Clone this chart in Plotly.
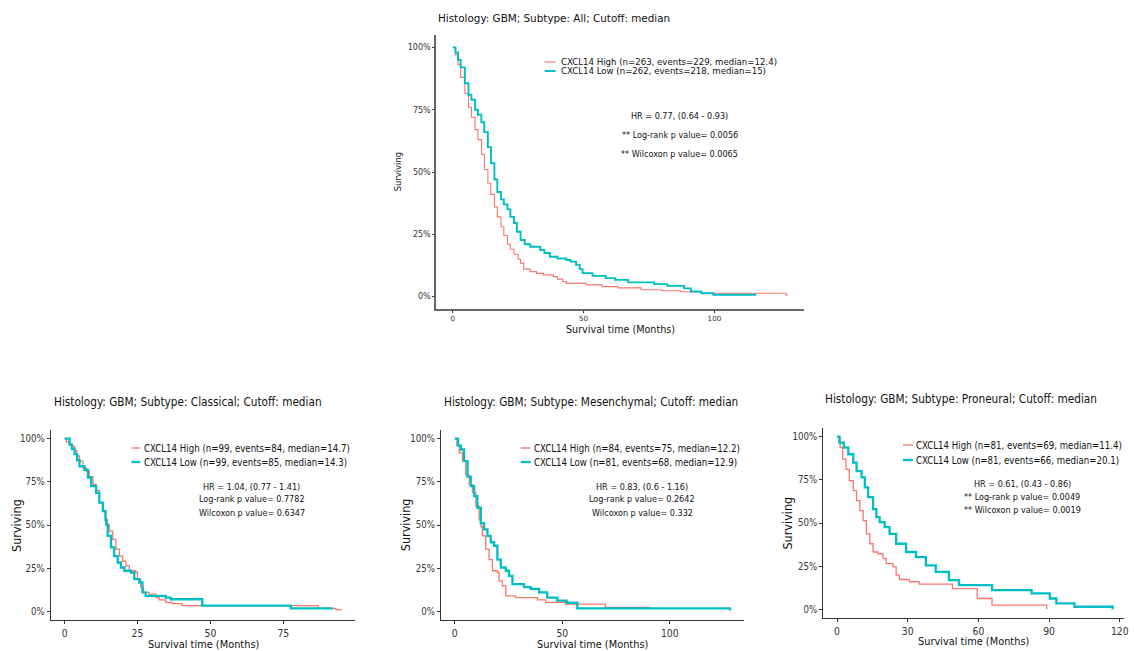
import plotly.graph_objects as go

W, H = 1134, 651
RED = "#F8766D"
TEAL = "#00BFC4"

# ---------------- data ----------------
all_high_t = [0, 1, 2, 3, 4.6, 6, 7.1, 8.5, 9.6, 11, 12.1, 13.4, 14.5, 15.9, 17, 18.4, 19.5, 20.9, 22, 23.4, 25,
              25.9, 27.1, 29.6, 32, 34.6, 38.4, 40, 42, 43.4, 51, 57, 63, 72, 80, 87, 95, 127.4, 128]
all_high_s = [1.0, 0.97, 0.93, 0.88, 0.815, 0.76, 0.72, 0.67, 0.63, 0.57, 0.51, 0.455, 0.41, 0.36, 0.32, 0.28, 0.245,
              0.21, 0.19, 0.17, 0.15, 0.134, 0.11, 0.10, 0.093, 0.087, 0.08, 0.07, 0.06, 0.053, 0.047, 0.04, 0.035,
              0.027, 0.023, 0.019, 0.013, 0.005, 0.005]
all_low_t = [0, 1, 2, 3, 4.6, 6, 7.1, 8.5, 9.6, 10.9, 12, 13.4, 14.6, 15.9, 17, 18.4, 19.5, 20.9, 22, 23.4, 24.5,
             25.9, 27.5, 29.6, 33.4, 35, 37.1, 40, 43.4, 45, 47.1, 48.5, 49.6, 53.4, 58.4, 62, 67, 77, 82, 88.4, 91,
             95, 99.6, 116]
all_low_s = [1.0, 0.98, 0.95, 0.92, 0.856, 0.81, 0.79, 0.75, 0.73, 0.70, 0.66, 0.60, 0.535, 0.47, 0.42, 0.39, 0.37,
             0.35, 0.32, 0.295, 0.26, 0.227, 0.21, 0.20, 0.187, 0.175, 0.16, 0.153, 0.147, 0.14, 0.127, 0.11, 0.094,
             0.083, 0.074, 0.067, 0.057, 0.05, 0.043, 0.033, 0.02, 0.013, 0.007, 0.007]

cla_high_t = [0, 0.6, 1.5, 2.3, 3.4, 4.2, 5.1, 6.3, 7.4, 8.5, 9.7, 10.8, 11.9, 13.1, 14.2, 14.7, 15.3, 16.5, 17.6,
              18.8, 19.9, 21, 22.2, 24.4, 25, 26.1, 27, 29, 31.3, 32.4, 34.7, 37, 40.3, 87, 93, 95]
cla_high_s = [1.0, 0.98, 0.97, 0.956, 0.93, 0.90, 0.87, 0.83, 0.81, 0.78, 0.735, 0.70, 0.63, 0.58, 0.53, 0.50, 0.465,
              0.417, 0.36, 0.32, 0.29, 0.263, 0.235, 0.225, 0.187, 0.14, 0.11, 0.10, 0.08, 0.067, 0.052, 0.045, 0.033,
              0.017, 0.01, 0.01]
cla_low_t = [0, 1.7, 2.5, 3.4, 4.3, 5.1, 6.8, 8, 9.1, 10.8, 11.9, 13.1, 14, 14.3, 14.8, 15.9, 17, 18.2, 19.3, 20.5,
             22.7, 23.9, 25.6, 26.7, 27.8, 34.7, 36.4, 47.2, 77.6, 92]
cla_low_s = [1.0, 0.965, 0.94, 0.91, 0.875, 0.84, 0.82, 0.775, 0.725, 0.686, 0.63, 0.58, 0.53, 0.50, 0.437, 0.37,
             0.32, 0.283, 0.254, 0.235, 0.225, 0.187, 0.167, 0.11, 0.09, 0.08, 0.07, 0.033, 0.017, 0.017]

mes_high_t = [0, 1, 2, 3.6, 5.1, 6.7, 8.2, 9.8, 11.3, 12.2, 12.8, 14.4, 15.9, 17.5, 19.8, 20.6, 22.1, 23.7, 28.3,
              38.4, 42.3, 51.5, 70, 91]
mes_high_s = [1.0, 0.96, 0.917, 0.87, 0.79, 0.735, 0.687, 0.61, 0.53, 0.49, 0.437, 0.36, 0.30, 0.235, 0.225, 0.177,
              0.148, 0.09, 0.08, 0.067, 0.052, 0.042, 0.023, 0.023]
mes_low_t = [0, 1.5, 2.8, 4.3, 5.9, 7.4, 9, 10.5, 12.1, 13.6, 15.2, 16.7, 18.3, 19.8, 21.4, 23.7, 25.2, 26.8, 32.2,
             35.3, 39.2, 43, 47.7, 52, 57, 127, 128]
mes_low_s = [1.0, 0.96, 0.937, 0.87, 0.78, 0.725, 0.667, 0.60, 0.51, 0.475, 0.437, 0.40, 0.38, 0.30, 0.254, 0.235,
             0.206, 0.158, 0.14, 0.13, 0.11, 0.08, 0.062, 0.05, 0.017, 0.017, 0.005]

pro_high_t = [0, 1.3, 2.4, 3.8, 5.2, 6.9, 8.3, 9.7, 11.1, 12.5, 13.9, 15.3, 17.4, 19.5, 20.9, 23.7, 25.1, 26.5, 30.7,
              34.9, 49, 59.5, 65.8, 88.5, 89]
pro_high_s = [1.0, 0.937, 0.87, 0.81, 0.745, 0.687, 0.63, 0.572, 0.514, 0.437, 0.38, 0.332, 0.322, 0.294, 0.265,
              0.246, 0.198, 0.173, 0.16, 0.146, 0.12, 0.063, 0.025, 0.025, 0.0]
pro_low_t = [0, 1, 2.9, 4.8, 6.9, 8.3, 10.4, 11.8, 13.2, 15.3, 16.7, 18.1, 20.2, 22.3, 25.1, 29.3, 33.5, 37.7, 41.9,
             47.5, 51.8, 65.8, 82.6, 90.3, 93.1, 100.8, 116.5, 117]
pro_low_s = [1.0, 0.965, 0.937, 0.898, 0.85, 0.80, 0.764, 0.706, 0.65, 0.58, 0.534, 0.505, 0.476, 0.437, 0.38, 0.332,
             0.303, 0.255, 0.217, 0.169, 0.14, 0.111, 0.092, 0.063, 0.035, 0.015, 0.015, 0.0]

y_tickvals = [0, 0.25, 0.5, 0.75, 1.0]
y_ticktext = ["0%", "25%", "50%", "75%", "100%"]

titles = ["Histology: GBM; Subtype: All; Cutoff: median",
          "Histology: GBM; Subtype: Classical; Cutoff: median",
          "Histology: GBM; Subtype: Mesenchymal; Cutoff: median",
          "Histology: GBM; Subtype: Proneural; Cutoff: median"]
legend_high = ["CXCL14 High (n=263, events=229, median=12.4)",
               "CXCL14 High (n=99, events=84, median=14.7)",
               "CXCL14 High (n=84, events=75, median=12.2)",
               "CXCL14 High (n=81, events=69, median=11.4)"]
legend_low = ["CXCL14 Low (n=262, events=218, median=15)",
              "CXCL14 Low (n=99, events=85, median=14.3)",
              "CXCL14 Low (n=81, events=68, median=12.9)",
              "CXCL14 Low (n=81, events=66, median=20.1)"]
stats = [["HR = 0.77, (0.64 - 0.93)", "** Log-rank p value= 0.0056", "** Wilcoxon p value= 0.0065"],
         ["HR = 1.04, (0.77 - 1.41)", "Log-rank p value= 0.7782", "Wilcoxon p value= 0.6347"],
         ["HR = 0.83, (0.6 - 1.16)", "Log-rank p value= 0.2642", "Wilcoxon p value= 0.332"],
         ["HR = 0.61, (0.43 - 0.86)", "** Log-rank p value= 0.0049", "** Wilcoxon p value= 0.0019"]]
x_ticks = [[0, 50, 100], [0, 25, 50, 75], [0, 50, 100], [0, 30, 60, 90, 120]]
x_ranges = [[-6.4, 134.4], [-4.75, 99.75], [-6.4, 134.4], [-5.8, 121.8]]
curves = [(all_high_t, all_high_s, all_low_t, all_low_s),
          (cla_high_t, cla_high_s, cla_low_t, cla_low_s),
          (mes_high_t, mes_high_s, mes_low_t, mes_low_s),
          (pro_high_t, pro_high_s, pro_low_t, pro_low_s)]

# ---------------- layout geometry (pixels) ----------------
WIDE = "DejaVu Sans, Verdana, sans-serif"
NARROW = "DejaVu Sans Condensed, Liberation Sans Narrow, Arial Narrow, Roboto, sans-serif"
panels = [
    dict(box=(438, 808, 35, 309), font=WIDE, tick=8, xtick=7.2, axt=9.6, yat=8.4, ttl=10.4, leg=8.6, st=8.1,
         title_xy=(438, 18), ytitle_x=400, xtitle_y=329, ticklen=2,
         leg_line=(547, 558), leg_text_x=561, leg_y=(62, 71),
         st_x=683, st_y=(116, 135, 154), lw=(1.1, 1.9), axw=1.6, axc="#666666"),
    dict(box=(51, 357, 430, 620), font=NARROW, tick=9.6, xtick=10.3, axt=10.9, yat=12.5, ttl=11.7, leg=9.6, st=9.0,
         title_xy=(52, 402), ytitle_x=16, xtitle_y=644, ticklen=3,
         leg_line=(132, 141), leg_text_x=143, leg_y=(448, 462),
         st_x=253, st_y=(487, 499, 513), lw=(1.3, 2.3), axw=1.3, axc="#333333"),
    dict(box=(443, 747, 430, 620), font=NARROW, tick=9.6, xtick=10.3, axt=10.9, yat=12.5, ttl=11.7, leg=9.6, st=9.0,
         title_xy=(444, 402), ytitle_x=407, xtitle_y=644, ticklen=3,
         leg_line=(523, 533), leg_text_x=534, leg_y=(448, 462),
         st_x=645, st_y=(487, 499, 513), lw=(1.3, 2.3), axw=1.3, axc="#333333"),
    dict(box=(827, 1129, 428, 618), font=NARROW, tick=9.6, xtick=10.3, axt=10.9, yat=12.5, ttl=11.7, leg=9.6, st=9.0,
         title_xy=(827, 399), ytitle_x=790, xtitle_y=641, ticklen=3,
         leg_line=(907, 917), leg_text_x=918, leg_y=(445, 460),
         st_x=1027, st_y=(484, 497, 510), lw=(1.3, 2.3), axw=1.3, axc="#333333"),
]


def fx(px):
    return px / W


def fy(py):
    return 1 - py / H


fig = go.Figure()
annotations = []
shapes = []
layout_axes = {}

for i, p in enumerate(panels):
    n = "" if i == 0 else str(i + 1)
    xa, ya = "x" + n, "y" + n
    ht, hs, lt, ls = curves[i]
    fig.add_trace(go.Scatter(x=ht, y=hs, mode="lines", line=dict(color=RED, width=p["lw"][0], shape="hv"),
                             xaxis=xa, yaxis=ya, name=legend_high[i], showlegend=False))
    fig.add_trace(go.Scatter(x=lt, y=ls, mode="lines", line=dict(color=TEAL, width=p["lw"][1], shape="hv"),
                             xaxis=xa, yaxis=ya, name=legend_low[i], showlegend=False))
    x0, x1, y0, y1 = p["box"]
    common = dict(showgrid=False, zeroline=False, showline=True, linecolor=p["axc"], linewidth=p["axw"],
                  ticks="outside", ticklen=p["ticklen"], tickcolor="#333333", tickwidth=1)
    layout_axes["xaxis" + n] = dict(domain=[fx(x0), fx(x1)], anchor=ya, range=x_ranges[i],
                                    tickvals=x_ticks[i],
                                    tickfont=dict(family=p["font"], size=p["xtick"], color="#333333"), **common)
    layout_axes["yaxis" + n] = dict(domain=[fy(y1), fy(y0)], anchor=xa, range=[-0.05, 1.05],
                                    tickvals=y_tickvals, ticktext=y_ticktext,
                                    tickfont=dict(family=p["font"], size=p["tick"], color="#333333"), **common)
    f = p["font"]
    annotations.append(dict(text=titles[i], xref="paper", yref="paper", x=fx(p["title_xy"][0]), y=fy(p["title_xy"][1]),
                            xanchor="left", yanchor="middle", showarrow=False,
                            font=dict(family=f, size=p["ttl"], color="#111111")))
    annotations.append(dict(text="Surviving", xref="paper", yref="paper", x=fx(p["ytitle_x"]), y=fy((y0 + y1) / 2),
                            xanchor="center", yanchor="middle", textangle=-90, showarrow=False,
                            font=dict(family=f, size=p["yat"], color="#111111")))
    annotations.append(dict(text="Survival time (Months)", xref="paper", yref="paper", x=fx((x0 + x1) / 2),
                            y=fy(p["xtitle_y"]), xanchor="center", yanchor="middle", showarrow=False,
                            font=dict(family=f, size=p["axt"], color="#111111")))
    for txt, yy, col in ((legend_high[i], p["leg_y"][0], RED), (legend_low[i], p["leg_y"][1], TEAL)):
        annotations.append(dict(text=txt, xref="paper", yref="paper", x=fx(p["leg_text_x"]), y=fy(yy),
                                xanchor="left", yanchor="middle", showarrow=False,
                                font=dict(family=f, size=p["leg"], color="#111111")))
        shapes.append(dict(type="line", xref="paper", yref="paper", x0=fx(p["leg_line"][0]), x1=fx(p["leg_line"][1]),
                           y0=fy(yy), y1=fy(yy),
                           line=dict(color=col, width=p["lw"][0] if col == RED else p["lw"][1])))
    for txt, yy in zip(stats[i], p["st_y"]):
        annotations.append(dict(text=txt, xref="paper", yref="paper", x=fx(p["st_x"]), y=fy(yy),
                                xanchor="center", yanchor="middle", showarrow=False,
                                font=dict(family=f, size=p["st"], color="#111111")))

fig.update_layout(width=W, height=H, margin=dict(l=0, r=0, t=0, b=0), paper_bgcolor="white",
                  plot_bgcolor="white", showlegend=False, annotations=annotations, shapes=shapes, **layout_axes)
fig.write_html("out.html", config={"displayModeBar": False},
               post_script="document.body.style.margin='0px'; document.body.style.overflow='hidden';")
